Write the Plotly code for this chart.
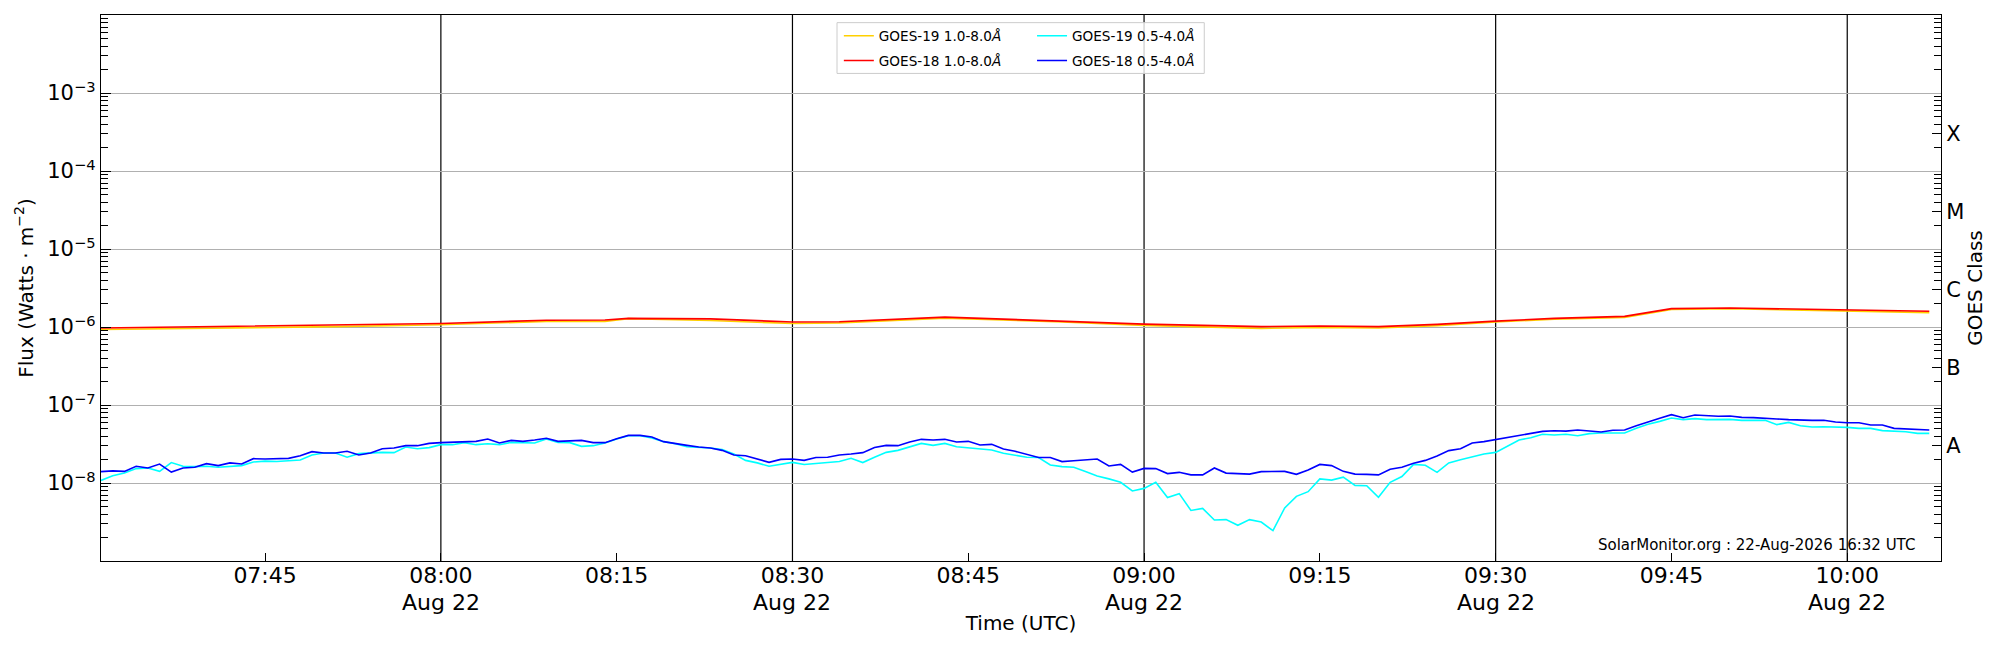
import pandas as pd
import plotly.graph_objects as go

# GOES XRS fluxes, 1-minute cadence from 07:31 UTC
t_start = "2026-08-22 07:31"
short_times = pd.date_range(t_start, periods=157, freq="1min")

# 0.5-4.0 A channel, in units of 1e-8 W m^-2
goes18_short = [
    1.40, 1.43, 1.41, 1.64, 1.56, 1.75, 1.38, 1.56, 1.59, 1.77,
    1.67, 1.81, 1.75, 2.05, 2.03, 2.05, 2.07, 2.24, 2.52, 2.42,
    2.42, 2.55, 2.29, 2.42, 2.75, 2.81, 3.01, 3.01, 3.22, 3.29,
    3.32, 3.39, 3.42, 3.67, 3.26, 3.52, 3.42, 3.56, 3.74, 3.42,
    3.49, 3.52, 3.29, 3.29, 3.70, 4.08, 4.08, 3.89, 3.39, 3.19,
    3.04, 2.89, 2.81, 2.62, 2.29, 2.24, 2.03, 1.84, 2.01, 2.03,
    1.95, 2.12, 2.14, 2.29, 2.35, 2.45, 2.86, 3.04, 3.01, 3.35,
    3.63, 3.56, 3.63, 3.35, 3.42, 3.07, 3.13, 2.72, 2.55, 2.33,
    2.12, 2.12, 1.88, 1.93, 1.99, 2.03, 1.65, 1.73, 1.38, 1.54,
    1.53, 1.32, 1.37, 1.27, 1.27, 1.56, 1.34, 1.32, 1.30, 1.40,
    1.40, 1.41, 1.29, 1.47, 1.73, 1.67, 1.41, 1.30, 1.29, 1.27,
    1.50, 1.59, 1.79, 1.95, 2.22, 2.60, 2.75, 3.26, 3.39, 3.60,
    3.89, 4.12, 4.33, 4.59, 4.68, 4.63, 4.78, 4.64, 4.51, 4.74,
    4.78, 5.43, 6.11, 6.75, 7.51, 6.88, 7.44, 7.23, 7.16, 7.23,
    6.95, 6.88, 6.81, 6.62, 6.49, 6.36, 6.36, 6.36, 6.05, 5.93,
    5.93, 5.54, 5.54, 5.02, 4.92, 4.78, 4.78,
]
goes19_short = [
    1.08, 1.24, 1.34, 1.53, 1.56, 1.41, 1.83, 1.64, 1.62, 1.64,
    1.59, 1.62, 1.67, 1.86, 1.91, 1.89, 1.93, 1.97, 2.29, 2.42,
    2.42, 2.14, 2.38, 2.45, 2.47, 2.45, 2.89, 2.75, 2.84, 3.10,
    3.10, 3.29, 3.10, 3.19, 3.10, 3.32, 3.26, 3.26, 3.67, 3.32,
    3.29, 2.95, 3.01, 3.26, 3.67, 4.04, 4.04, 3.78, 3.39, 3.19,
    2.92, 2.86, 2.81, 2.68, 2.35, 1.95, 1.81, 1.64, 1.75, 1.84,
    1.73, 1.77, 1.83, 1.89, 2.07, 1.83, 2.14, 2.47, 2.62, 2.92,
    3.22, 3.04, 3.22, 2.92, 2.84, 2.75, 2.65, 2.40, 2.29, 2.14,
    2.12, 1.70, 1.62, 1.59, 1.40, 1.23, 1.13, 1.02, 0.79, 0.853,
    1.02, 0.65, 0.73, 0.445, 0.473, 0.335, 0.339, 0.287, 0.339, 0.316,
    0.245, 0.478, 0.675, 0.774, 1.13, 1.09, 1.19, 0.933, 0.924, 0.655,
    1.02, 1.21, 1.73, 1.69, 1.37, 1.81, 1.99, 2.18, 2.35, 2.47,
    2.95, 3.56, 3.81, 4.21, 4.12, 4.21, 4.04, 4.29, 4.38, 4.38,
    4.38, 5.02, 5.65, 6.17, 6.81, 6.49, 6.68, 6.49, 6.49, 6.55,
    6.36, 6.36, 6.36, 5.60, 5.99, 5.43, 5.22, 5.27, 5.27, 5.17,
    5.02, 5.02, 4.69, 4.64, 4.55, 4.33, 4.33,
]

# 1.0-8.0 A channel, in units of 1e-6 W m^-2 (smooth, read at these times)
long_times = ["07:31", "07:41", "07:51", "08:00", "08:09", "08:14", "08:16", "08:23",
              "08:30", "08:34", "08:43", "08:53", "09:00", "09:10", "09:15", "09:20",
              "09:25", "09:30", "09:35", "09:41", "09:45", "09:50", "10:00", "10:07"]
goes18_long = [0.97, 1.01, 1.06, 1.11, 1.22, 1.23, 1.29, 1.27, 1.16, 1.17, 1.34, 1.20,
               1.09, 1.01, 1.03, 1.01, 1.08, 1.19, 1.29, 1.37, 1.72, 1.75, 1.65, 1.59]
goes19_long = [0.93, 0.96, 1.01, 1.07, 1.18, 1.18, 1.28, 1.21, 1.11, 1.13, 1.30, 1.16,
               1.05, 0.96, 0.99, 0.97, 1.04, 1.16, 1.26, 1.33, 1.68, 1.72, 1.60, 1.53]

x_ticks = ["07:45", "08:00", "08:15", "08:30", "08:45", "09:00", "09:15", "09:30", "09:45", "10:00"]
half_hours = ["08:00", "08:30", "09:00", "09:30", "10:00"]
date_label = "Aug 22"
goes_classes = ["A", "B", "C", "M", "X"]
goes_levels = [3e-8, 3e-7, 3e-6, 3e-5, 3e-4]

day = "2026-08-22 "
font = "DejaVu Sans"

long_t = pd.to_datetime([day + t for t in long_times])
s18 = [v * 1e-8 for v in goes18_short]
s19 = [v * 1e-8 for v in goes19_short]
l18 = [v * 1e-6 for v in goes18_long]
l19 = [v * 1e-6 for v in goes19_long]

fig = go.Figure()
fig.add_trace(go.Scatter(x=long_t, y=l19, mode="lines", line=dict(color="#ffd000", width=1.6),
                         name="GOES-19 1.0-8.0<i>Å</i>", legend="legend", legendgroup="a"))
fig.add_trace(go.Scatter(x=long_t, y=l18, mode="lines", line=dict(color="red", width=1.6),
                         name="GOES-18 1.0-8.0<i>Å</i>", legend="legend", legendgroup="b"))
fig.add_trace(go.Scatter(x=short_times, y=s19, mode="lines", line=dict(color="cyan", width=1.6),
                         name="GOES-19 0.5-4.0<i>Å</i>", legend="legend2", legendgroup="c"))
fig.add_trace(go.Scatter(x=short_times, y=s18, mode="lines", line=dict(color="blue", width=1.6),
                         name="GOES-18 0.5-4.0<i>Å</i>", legend="legend2", legendgroup="d"))
# keeps the right-hand class axis alive
fig.add_trace(go.Scatter(x=[], y=[], yaxis="y2", showlegend=False, hoverinfo="skip"))

for t in half_hours:
    fig.add_vline(x=pd.Timestamp(day + t), line=dict(color="black", width=1.2), layer="below")
    # second line of the date tick label
    fig.add_annotation(text=date_label, x=pd.Timestamp(day + t), xref="x", y=0, yref="paper",
                       yanchor="middle", yshift=-41, showarrow=False, font=dict(size=22))

decades = [10.0 ** n for n in range(-9, -1)]
dec_text = ["", "10<sup>−8</sup>", "10<sup>−7</sup>", "10<sup>−6</sup>", "10<sup>−5</sup>",
            "10<sup>−4</sup>", "10<sup>−3</sup>", ""]
minor_vals = [k * 10.0 ** n for n in range(-9, -2) for k in range(2, 10)]

# the page body adds an 8 px offset, so margins are shifted to compensate
fig.update_layout(
    width=2000, height=650,
    margin=dict(l=93, r=67, t=7, b=97),
    paper_bgcolor="white", plot_bgcolor="white",
    font=dict(family=font, size=21, color="black"),
    xaxis=dict(
        range=[day + "07:31", day + "10:08"],
        tickvals=[day + t for t in x_ticks], ticktext=x_ticks,
        tickfont=dict(size=22), ticklabelstandoff=-6,
        ticks="inside", ticklen=8, tickcolor="black",
        showline=True, linecolor="black", linewidth=1.3, mirror=True,
        showgrid=False, zeroline=False, automargin=False,
        title=dict(text="Time (UTC)", standoff=29, font=dict(size=20)),
    ),
    yaxis=dict(
        type="log", range=[-9, -2],
        tickvals=decades, ticktext=dec_text,
        ticks="inside", ticklen=10, tickcolor="black",
        minor=dict(tickmode="array", tickvals=minor_vals, ticks="inside", ticklen=7,
                   tickcolor="black", showgrid=False),
        showgrid=True, gridcolor="#b0b0b0", gridwidth=1,
        showline=True, linecolor="black", linewidth=1.3, mirror=True,
        zeroline=False, automargin=False,
        title=dict(text="Flux (Watts · m<sup>−2</sup>)", standoff=8, font=dict(size=20)),
    ),
    yaxis2=dict(
        type="log", range=[-9, -2], overlaying="y", side="right",
        tickvals=goes_levels, ticktext=goes_classes,
        ticks="inside", ticklen=9, tickcolor="black",
        minor=dict(tickmode="array", tickvals=minor_vals, ticks="inside", ticklen=7,
                   tickcolor="black", showgrid=False),
        showgrid=False, showline=True, linecolor="black", linewidth=1.3,
        zeroline=False, automargin=False,
        title=dict(text="GOES Class", standoff=4, font=dict(size=20)),
    ),
    legend=dict(x=0.401, y=0.99, xanchor="left", yanchor="top", tracegroupgap=4,
                bgcolor="rgba(0,0,0,0)", font=dict(size=13.6)),
    legend2=dict(x=0.506, y=0.99, xanchor="left", yanchor="top", tracegroupgap=4,
                 bgcolor="rgba(0,0,0,0)", font=dict(size=13.6)),
    showlegend=True,
)

# legend frame around both legend columns
fig.add_shape(type="rect", xref="paper", yref="paper", x0=0.4, x1=0.5996, y0=0.893, y1=0.986,
              line=dict(color="#cccccc", width=1), fillcolor="rgba(255,255,255,0.8)", layer="above")

fig.add_annotation(text="SolarMonitor.org : 22-Aug-2026 16:32 UTC", xref="paper", yref="paper",
                   x=0.987, y=0.03, xanchor="right", yanchor="middle", showarrow=False,
                   font=dict(size=15))

fig.write_html("out.html")
